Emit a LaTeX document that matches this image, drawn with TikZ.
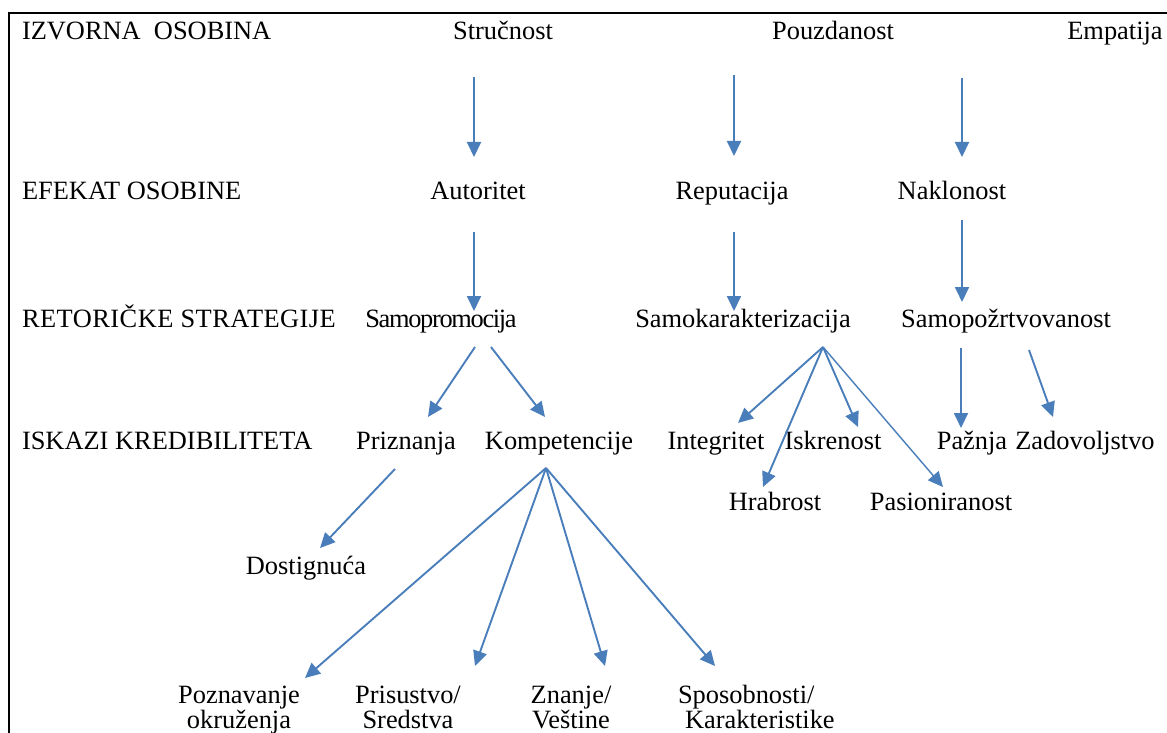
\documentclass[tikz,border=0pt]{standalone}
\usepackage{fontspec}
\setmainfont{Liberation Serif}
\usetikzlibrary{arrows.meta}
\definecolor{arrblue}{RGB}{74,126,187}
\begin{document}
\begin{tikzpicture}[x=1pt,y=-1pt,
  lbl/.style={inner sep=0pt, outer sep=0pt, anchor=base, font=\fontsize{26.4}{25}\selectfont},
  rowlbl/.style={lbl, anchor=base west},
  twoline/.style={lbl, align=center},
  arr/.style={draw=arrblue, line width=1.9pt, -{Triangle[length=15pt,width=14pt]}},
  framestyle/.style={draw=black, line width=1.3pt}]
\useasboundingbox (0,0) rectangle (1167,733);
\draw[framestyle] (9,733) -- (9,13) -- (1167,13);

% row labels
\node[rowlbl] (r1) at (22,40) {IZVORNA\ \ OSOBINA};
\node[rowlbl] (r2) at (22,199) {EFEKAT OSOBINE};
\node[rowlbl] (r3) at (22,327) {\addfontfeature{LetterSpace=1.8}RETORIČKE STRATEGIJE};
\node[rowlbl] (r4) at (22,449) {ISKAZI KREDIBILITETA};

% row 1
\node[lbl] (strucnost) at (503,40) {Stručnost};
\node[lbl] (pouzdanost) at (833,40) {Pouzdanost};
\node[lbl] (empatija) at (1115,40) {Empatija};
% row 2
\node[lbl] (autoritet) at (478,199) {Autoritet};
\node[lbl] (reputacija) at (732,199) {Reputacija};
\node[lbl] (naklonost) at (952,199) {Naklonost};
% row 3
\node[lbl] (samopromocija) at (441,327) {\addfontfeature{LetterSpace=-5}Samopromocija};
\node[lbl] (samokar) at (743,327) {Samokarakterizacija};
\node[lbl] (samopoz) at (1006,327) {Samopožrtvovanost};
% row 4
\node[lbl] (priznanja) at (406,449) {Priznanja};
\node[lbl] (kompetencije) at (559,449) {Kompetencije};
\node[lbl] (integritet) at (716,449) {Integritet};
\node[lbl] (iskrenost) at (833,449) {Iskrenost};
\node[lbl] (paznja) at (972,449) {Pažnja};
\node[lbl] (zadovoljstvo) at (1085,449) {Zadovoljstvo};
% row 5
\node[lbl] (hrabrost) at (775,510) {Hrabrost};
\node[lbl] (pasioniranost) at (941,510) {Pasioniranost};
\node[lbl] (dostignuca) at (306,574) {Dostignuća};
% bottom (base anchor = last line baseline)
\node[twoline] (poznavanje) at (239,728) {Poznavanje\\okruženja};
\node[twoline] (prisustvo) at (408,728) {Prisustvo/\\Sredstva};
\node[twoline] (znanje) at (571,728) {Znanje/\\Veštine};
\node[lbl, align=left, anchor=base west] (sposobnosti) at (678,728) {Sposobnosti/\\\hspace{0.27em}Karakteristike};

% arrow coordinates
\coordinate (a1s) at (474,77);   \coordinate (a1e) at (474,157);
\coordinate (a2s) at (734,75);   \coordinate (a2e) at (734,156);
\coordinate (a3s) at (962,78);   \coordinate (a3e) at (962,157);
\coordinate (a4s) at (474,232);  \coordinate (a4e) at (474,311);
\coordinate (a5s) at (734,232);  \coordinate (a5e) at (734,311);
\coordinate (a6s) at (962,220);  \coordinate (a6e) at (962,302);
\coordinate (sp1) at (475,347);  \coordinate (sp2) at (491,347);
\coordinate (skr) at (823,347);
\coordinate (spz1) at (961,348); \coordinate (spz2) at (1029,350);
\coordinate (prz) at (395,469);
\coordinate (kmp) at (546,468);
\coordinate (t-prizn) at (428,417);
\coordinate (t-komp) at (545,417);
\coordinate (t-integ) at (738,423);
\coordinate (t-hrab) at (763,487);
\coordinate (t-iskr) at (858,427);
\coordinate (t-pas) at (943,487);
\coordinate (t-pazn) at (961,428);
\coordinate (t-zad) at (1053,417);
\coordinate (t-dost) at (320,548);
\coordinate (t-pozn) at (305,678);
\coordinate (t-pris) at (475,666);
\coordinate (t-zn) at (605,666);
\coordinate (t-spos) at (715,666);

\draw[arr] (a1s) -- (a1e);
\draw[arr] (a2s) -- (a2e);
\draw[arr] (a3s) -- (a3e);
\draw[arr] (a4s) -- (a4e);
\draw[arr] (a5s) -- (a5e);
\draw[arr] (a6s) -- (a6e);
\draw[arr] (sp1) -- (t-prizn);
\draw[arr] (sp2) -- (t-komp);
\draw[arr] (skr) -- (t-integ);
\draw[arr] (skr) -- (t-hrab);
\draw[arr] (skr) -- (t-iskr);
\draw[arr, line width=1.4pt] (skr) -- (t-pas);
\draw[arr] (spz1) -- (t-pazn);
\draw[arr] (spz2) -- (t-zad);
\draw[arr] (prz) -- (t-dost);
\draw[arr] (kmp) -- (t-pozn);
\draw[arr] (kmp) -- (t-pris);
\draw[arr] (kmp) -- (t-zn);
\draw[arr] (kmp) -- (t-spos);
\end{tikzpicture}
\end{document}
